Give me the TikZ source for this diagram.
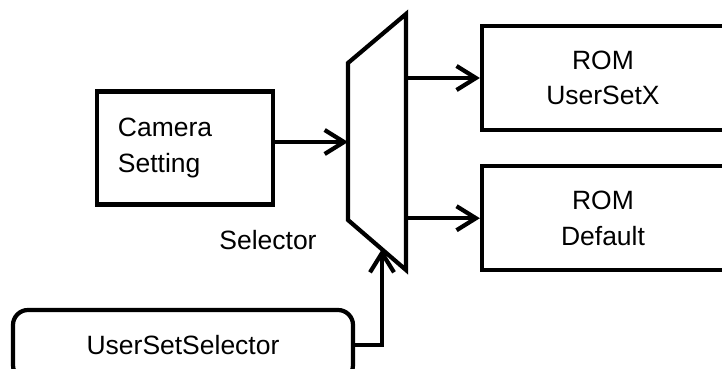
\documentclass[tikz,border=0pt]{standalone}
\usepackage{fontspec}
\setmainfont{Liberation Sans}
\usepackage{tikz}
\usetikzlibrary{arrows.meta, positioning, calc}
\tikzstyle{box} = [rectangle, draw, line width=3.6pt, align=center, inner sep=0pt]
\tikzstyle{arrow} = [line width=3.6pt, -{Straight Barb[length=0.58cm,width=0.72cm]}]

\begin{document}
\begin{tikzpicture}[
        x=0.03cm, y=-0.03cm,
        font=\fontsize{22.6}{30.5}\selectfont,
        node distance=0.96cm,
        rom/.style={box, minimum width=7.26cm, minimum height=3.12cm}
        ]
        \useasboundingbox (0,0) rectangle (722,369);

        \node[box, align=left, text width=4.02cm, inner xsep=0.63cm, minimum height=3.39cm] (cam) at (185,148) {Camera\\Setting};
        \node[rom] (romx) at (603,78) {ROM\\UserSetX};
        \node[rom, below=of romx] (romd) {ROM\\Default};
        \node[minimum width=1.74cm, minimum height=7.68cm, inner sep=0pt, outer sep=0pt] (sel) at (377,142) {};
        \node (sel_label) at (268,240) {Selector};
        \node[box, rounded corners=0.45cm, minimum width=10.2cm, minimum height=2.1cm] (uss) at (183,345) {UserSetSelector};
        \coordinate (sel_in) at (382,249);

        % selector body
        \draw[line width=3.6pt] (sel.north east) -- (sel.south east) -- ($(sel.south west)+(0,-50)$) -- ($(sel.north west)+(0,49)$) -- cycle;

        \draw[arrow] (cam.east |- sel.west) -- (sel.west);
        \draw[arrow] (sel.east |- romx.west) -- (romx.west);
        \draw[arrow] (sel.east |- romd.west) -- (romd.west);
        \draw[arrow] (uss.east) -| (sel_in);

    \end{tikzpicture}
\end{document}
